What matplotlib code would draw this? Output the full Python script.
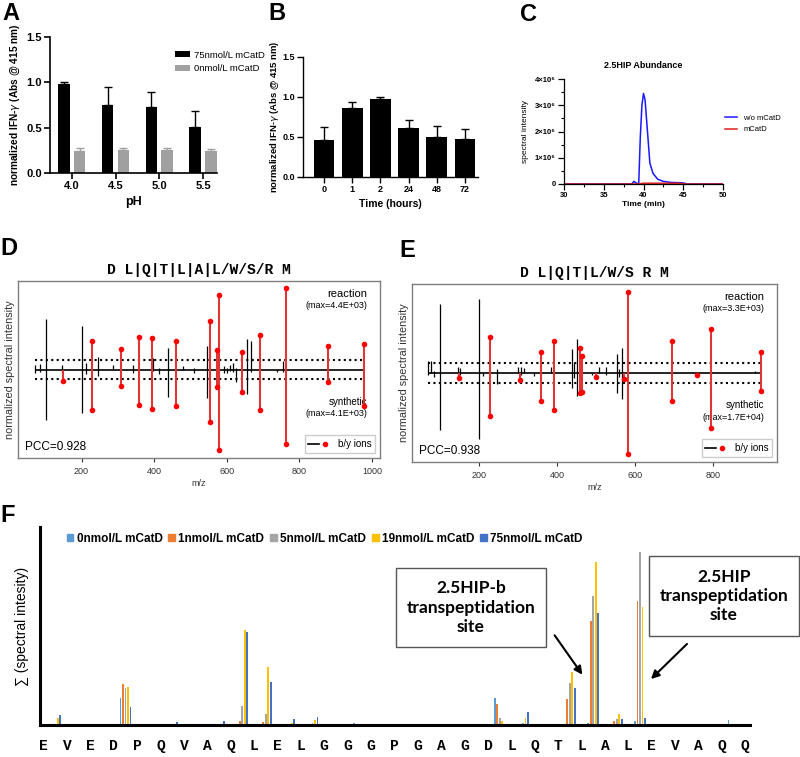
import numpy as np
import matplotlib
matplotlib.use("Agg")
import matplotlib.pyplot as plt
from matplotlib.lines import Line2D
from matplotlib.patches import Patch, Rectangle, FancyArrowPatch
from matplotlib.legend_handler import HandlerTuple
from matplotlib.ticker import MultipleLocator, FuncFormatter

plt.rcParams['font.family'] = ['Liberation Sans', 'DejaVu Sans']

# ---- panel A: IFN-g vs pH
ph_labels = ["4.0", "4.5", "5.0", "5.5"]
a_75 = [0.98, 0.75, 0.73, 0.51]
a_75_err = [0.02, 0.20, 0.16, 0.17]
a_0 = [0.24, 0.25, 0.25, 0.24]
a_0_err = [0.04, 0.03, 0.03, 0.03]

# ---- panel B: IFN-g vs time
time_labels = ["0", "1", "2", "24", "48", "72"]
b_vals = [0.46, 0.86, 0.98, 0.61, 0.50, 0.47]
b_err = [0.16, 0.08, 0.02, 0.10, 0.14, 0.13]

# ---- panel C: 2.5HIP abundance trace
c_time_blue = [30, 38.5, 38.8, 39.1, 39.4, 39.6, 39.8, 40.0, 40.2, 40.5, 40.8, 41.2, 41.8, 42.5, 43.5, 44.5, 45.0, 45.5, 50]
c_blue = [0, 0, 0.1, 0.03, 0.02, 1.8, 3.0, 3.45, 3.2, 2.0, 0.8, 0.4, 0.18, 0.1, 0.06, 0.05, 0.04, 0, 0]
c_time_red = [30, 39.3, 40, 42, 44.5, 45.2, 50]
c_red = [0, 0, 0.03, 0.03, 0.03, 0, 0]

# ---- panel D: mirror spectrum (reaction up, synthetic down)
d_blk_mz = [71, 85, 101, 147, 201, 212, 245, 286, 341, 396, 413, 439, 480, 511, 545, 593, 600, 609, 616, 626, 656, 666, 738, 755]
d_blk_react = [0.05, 0.07, 0.63, 0.05, 0.54, 0.08, 0.15, 0.05, 0.05, 0.14, 0.02, 0.27, 0.04, 0.02, 0.29, 0.04, 0.02, 0.06, 0.08, 0.02, 0.375, 0.35, 0, 0.1]
d_blk_synth = [0.04, 0.03, 0.63, 0.04, 0.54, 0.05, 0.08, 0, 0.04, 0.02, 0.05, 0.34, 0, 0.04, 0.36, 0.04, 0.04, 0.02, 0.03, 0.15, 0.31, 0.03, 0.03, 0.03]
d_red_mz = [149, 228, 308, 357, 393, 459, 554, 573, 579, 642, 692, 764, 878, 979]
d_red_react = [0, 0.36, 0.25, 0.41, 0.39, 0.35, 0.60, 0.24, 0.93, 0.22, 0.43, 1.01, 0.29, 0.32]
d_red_synth = [0.14, 0.50, 0.20, 0.44, 0.49, 0.45, 0.65, 0.22, 1.0, 0.28, 0.50, 0.92, 0.16, 0.45]

# ---- panel E
e_blk_mz = [70, 78, 85, 100, 147, 151, 200, 211, 245, 301, 307, 314, 342, 384, 439, 444, 451, 490, 507, 526, 553, 560, 566, 908]
e_blk_react = [0.15, 0.15, 0.03, 0.85, 0.08, 0.06, 0.91, 0, 0.05, 0.07, 0.07, 0.06, 0, 0.07, 0.30, 0.12, 0.42, 0, 0.07, 0.07, 0.23, 0.05, 0.31, 0.02]
e_blk_synth = [0.03, 0, 0.05, 0.70, 0.02, 0.03, 0.81, 0.04, 0.13, 0, 0.03, 0, 0.04, 0, 0.18, 0.06, 0.28, 0.03, 0, 0.02, 0.25, 0.05, 0.32, 0]
e_red_mz = [149, 228, 306, 359, 393, 459, 463, 501, 572, 581, 694, 759, 796, 924]
e_red_react = [0, 0.45, 0, 0.26, 0.40, 0.31, 0.21, 0, 0, 1.0, 0.39, 0, 0.55, 0.26]
e_red_synth = [0.06, 0.53, 0.09, 0.34, 0.46, 0.25, 0.23, 0.05, 0.08, 1.0, 0.34, 0.02, 0.68, 0.22]

# ---- panel F: summed intensity per cleavage site
residues = list("EVEDPQVAQLELGGGPGAGDLQTLALEVAQQ")
f_series = ["0nmol/L mCatD", "1nmol/L mCatD", "5nmol/L mCatD", "19nmol/L mCatD", "75nmol/L mCatD"]
f_0 = [0, 0, 0, 26.7, 0.5, 0, 0, 0, 0, 0, 0, 0, 0.7, 2.3, 0, 0, 0, 0.7, 0, 27.3, 0, 0, 0, 2.3, 0, 4, 0, 0, 0, 5]
f_1 = [1, 0.7, 0, 40.7, 0, 0, 0, 0, 4, 3.3, 0, 0, 0, 0, 0, 0, 0, 0, 0, 21, 0, 0, 25.7, 104, 4, 124, 0, 0, 0, 0]
f_5 = [0, 0, 0, 36.7, 0, 0, 0, 0, 19, 11, 0, 2, 0, 0, 0, 0, 0, 0, 0, 6.7, 2.3, 0, 41.7, 129, 6.3, 173, 0, 0, 0, 0]
f_19 = [7, 1, 0, 38.3, 0, 0, 0, 0, 95, 58, 2, 5, 0, 0, 0, 0, 0, 0, 0, 4, 7.3, 0, 53.3, 163, 10.7, 118, 0, 0, 0, 0]
f_75 = [10, 0, 0, 18, 0, 2.7, 0, 4, 92.7, 42.7, 5.7, 8, 0, 0, 0, 0, 0, 0, 0, 0, 12.7, 0, 37, 112, 6.3, 7.3, 0, 0, 0, 0]
f_colors = ["#5B9BD5", "#ED7D31", "#A5A5A5", "#FFC000", "#4472C4"]

W, H = 800, 757


def rect(l, t, r, b):
    return [l / W, 1 - b / H, (r - l) / W, (b - t) / H]


def fpos(x, y):
    return (x / W, 1 - y / H)


fig = plt.figure(figsize=(8, 7.57), dpi=100)

for lab, x, y in [("A", 2, 2), ("B", 268, 2), ("C", 520, 3), ("D", 0, 237), ("E", 399, 239), ("F", 0, 504)]:
    fig.text(*fpos(x, y), lab, fontsize=17, fontweight="bold", ha="left", va="top")


def prism_style(ax, lw=1.2, size=8, pad=2):
    ax.spines[["top", "right"]].set_visible(False)
    ax.spines[["left", "bottom"]].set_linewidth(lw)
    ax.tick_params(width=lw, length=4, labelsize=size, pad=pad)
    for t in ax.get_xticklabels() + ax.get_yticklabels():
        t.set_fontweight("bold")


# A
axA = fig.add_axes(rect(50, 37, 217, 173))
xa = np.arange(len(ph_labels))
axA.bar(xa - 0.18, a_75, 0.26, color="black", yerr=[np.zeros(4), a_75_err],
        capsize=3, error_kw=dict(lw=1, capthick=1), label="75nmol/L mCatD")
axA.bar(xa + 0.18, a_0, 0.26, color="#a0a0a0", yerr=[np.zeros(4), a_0_err],
        capsize=3, error_kw=dict(lw=1, capthick=1, ecolor="#a0a0a0"), label="0nmol/L mCatD")
axA.set_xlim(-0.5, 3.32)
axA.set_ylim(0, 1.5)
axA.set_yticks([0, 0.5, 1.0, 1.5])
axA.set_xticks(xa, ph_labels)
axA.set_xlabel("pH", fontsize=9, fontweight="bold", labelpad=3)
axA.set_ylabel(r"normalized IFN-$\gamma$ (Abs @ 415 nm)", fontsize=7.3, fontweight="bold", labelpad=3)
prism_style(axA)
axA.legend(loc="upper left", bbox_to_anchor=fpos(166, 42), bbox_transform=fig.transFigure,
           frameon=False, fontsize=6.8, handlelength=1.6, handleheight=0.6, handletextpad=0.5)

# B
axB = fig.add_axes(rect(303, 57, 478, 177))
xb = np.arange(len(time_labels))
axB.bar(xb, b_vals, 0.74, color="black", yerr=[np.zeros(6), b_err],
        capsize=3, error_kw=dict(lw=1, capthick=1))
axB.set_xlim(-0.745, 5.46)
axB.set_ylim(0, 1.5)
axB.set_yticks([0, 0.5, 1.0, 1.5])
axB.set_xticks(xb, time_labels)
axB.set_xlabel("Time (hours)", fontsize=7.5, fontweight="bold")
axB.set_ylabel(r"normalized IFN-$\gamma$ (Abs @ 415 nm)", fontsize=6.8, fontweight="bold", labelpad=1)
prism_style(axB, lw=1.0, size=6.5, pad=1.5)

# C
axC = fig.add_axes(rect(564, 79, 723, 184))
axC.plot(c_time_blue, np.array(c_blue) * 1e6, color="#1a1aff", lw=1.1, label="w/o mCatD")
axC.plot(c_time_red, np.array(c_red) * 1e6, color="#e02020", lw=1.1, label="mCatD")
axC.set_xlim(30, 50)
axC.set_ylim(0, 4e6)
axC.set_xticks([30, 35, 40, 45, 50])
axC.xaxis.set_minor_locator(MultipleLocator(2.5))
axC.set_yticks([0, 1e6, 2e6, 3e6, 4e6])
axC.yaxis.set_minor_locator(MultipleLocator(0.5e6))
axC.yaxis.set_major_formatter(FuncFormatter(lambda v, p: "0" if v == 0 else f"{int(round(v / 1e6))}×10⁶"))
axC.set_title("2.5HIP Abundance", fontsize=6.5, fontweight="bold", pad=8)
axC.set_xlabel("Time (min)", fontsize=6, fontweight="bold", labelpad=1)
axC.set_ylabel("spectral intensity", fontsize=6)
prism_style(axC, lw=0.9, size=5.5)
axC.tick_params(which="minor", length=2, width=0.8)
axC.legend(loc="center left", bbox_to_anchor=fpos(718, 124), bbox_transform=fig.transFigure,
           frameon=False, fontsize=5.5, handlelength=1.6)


# D and E: mirror spectra
def mirror(ax, bmz, br, bs, rmz, rr, rs, xlim, xticks, title, tmax, smax, pcc):
    bmz, br, bs = np.array(bmz), np.array(br), np.array(bs)
    rmz, rr, rs = np.array(rmz), np.array(rr), np.array(rs)
    lo, hi = min(bmz.min(), rmz.min()), max(bmz.max(), rmz.max())
    ax.hlines(0, lo, hi, color="black", lw=1.2, zorder=2)
    ax.hlines([0.12, -0.12], lo, hi, color="black", lw=1.5, linestyles=(0, (1, 1.6)), zorder=2)
    ax.vlines(bmz, -bs, br, color="black", lw=0.9, zorder=3)
    ax.vlines(rmz, -rs, rr, color="#e03535", lw=1.5, zorder=4)
    ax.plot(rmz[rr > 0], rr[rr > 0], "o", color="red", ms=3, zorder=5)
    ax.plot(rmz[rs > 0], -rs[rs > 0], "o", color="red", ms=3, zorder=5)
    ax.set_xlim(*xlim)
    ax.set_ylim(-1.1, 1.1)
    ax.set_yticks([])
    ax.set_xticks(xticks)
    ax.tick_params(labelsize=6.5, colors="#333333", length=3, width=0.8)
    for s in ax.spines.values():
        s.set_color("#7f7f7f")
        s.set_linewidth(1)
    ax.set_xlabel("m/z", fontsize=6.5, color="#333333", labelpad=2)
    ax.set_ylabel("normalized spectral intensity", fontsize=7.8, color="#333333", labelpad=2)
    ax.set_title(title, family=["Liberation Mono", "DejaVu Sans Mono"], fontweight="bold", fontsize=10.5, pad=5)
    ax.text(0.965, 0.955, "reaction", transform=ax.transAxes, ha="right", va="top", fontsize=8)
    ax.text(0.965, 0.885, f"(max={tmax})", transform=ax.transAxes, ha="right", va="top", fontsize=6.5)
    ax.text(0.965, 0.29, "synthetic", transform=ax.transAxes, ha="right", va="bottom", fontsize=7)
    ax.text(0.965, 0.225, f"(max={smax})", transform=ax.transAxes, ha="right", va="bottom", fontsize=6.5)
    ax.text(0.02, 0.03, f"PCC={pcc}", transform=ax.transAxes, ha="left", va="bottom", fontsize=8.5)
    h = (Line2D([], [], color="black", lw=1.2), Line2D([], [], color="red", marker="o", ms=3, ls=""))
    ax.legend([h], ["b/y ions"], handler_map={tuple: HandlerTuple(ndivide=None, pad=0)},
              loc="lower right", fontsize=7, handlelength=2.2, borderpad=0.4, framealpha=1,
              edgecolor="#cccccc", fancybox=False)


axD = fig.add_axes(rect(18, 281, 380, 458))
mirror(axD, d_blk_mz, d_blk_react, d_blk_synth, d_red_mz, d_red_react, d_red_synth,
       (25, 1022), [200, 400, 600, 800, 1000], "D L|Q|T|L|A|L/W/S/R M", "4.4E+03", "4.1E+03", "0.928")

axE = fig.add_axes(rect(412, 284, 777, 462))
mirror(axE, e_blk_mz, e_blk_react, e_blk_synth, e_red_mz, e_red_react, e_red_synth,
       (28, 964), [200, 400, 600, 800], "D L|Q|T|L/W/S R M", "3.3E+03", "1.7E+04", "0.938")

# F
axF = fig.add_axes(rect(40, 527, 750, 725))
sites = np.arange(len(f_0)) + 0.5
for k, (vals, name, col) in enumerate(zip([f_0, f_1, f_5, f_19, f_75], f_series, f_colors)):
    axF.bar(sites + (k - 2) * 0.107, vals, 0.075, color=col, label=name)
axF.set_xlim(-0.15, 30.2)
axF.set_ylim(0, 198)
axF.set_yticks([])
axF.set_xticks(np.arange(len(residues)), residues)
axF.tick_params(axis="x", length=0, pad=10)
for t in axF.get_xticklabels():
    t.set_family(["Liberation Mono", "DejaVu Sans Mono"])
    t.set_fontweight("bold")
    t.set_fontsize(10.5)
axF.spines[["top", "right"]].set_visible(False)
axF.spines[["left", "bottom"]].set_linewidth(2.2)
axF.set_ylabel("∑ (spectral intesity)", fontsize=10, labelpad=8)
handles = [Patch(color=c) for c in f_colors]
axF.legend(handles, f_series, loc="center left", bbox_to_anchor=fpos(56, 539), bbox_transform=fig.transFigure,
           ncol=5, frameon=False, prop=dict(weight="bold", size=8.5), handlelength=0.55, handleheight=0.55,
           handletextpad=0.3, columnspacing=0.5)

# annotation boxes
for (l, t, r, b), txt in [((396, 568, 546, 647), "2.5HIP-b\ntranspeptidation\nsite"),
                          ((649, 556, 799, 636), "2.5HIP\ntranspeptidation\nsite")]:
    fig.add_artist(Rectangle(fpos(l, b), (r - l) / W, (b - t) / H, transform=fig.transFigure,
                             facecolor="white", edgecolor="#555555", lw=1))
    fig.text(*fpos((l + r) / 2, (t + b) / 2), txt, ha="center", va="center", fontsize=12.5,
             fontweight="bold", family=["Lato", "DejaVu Sans"], linespacing=1.25)

for (x0, y0), (x1, y1) in [((553, 633), (584, 677)), ((689, 642), (649, 681))]:
    fig.add_artist(FancyArrowPatch(fpos(x0, y0), fpos(x1, y1), transform=fig.transFigure,
                                   arrowstyle="-|>", mutation_scale=12, lw=1.5, color="black"))

fig.savefig("out.png", dpi=100)
